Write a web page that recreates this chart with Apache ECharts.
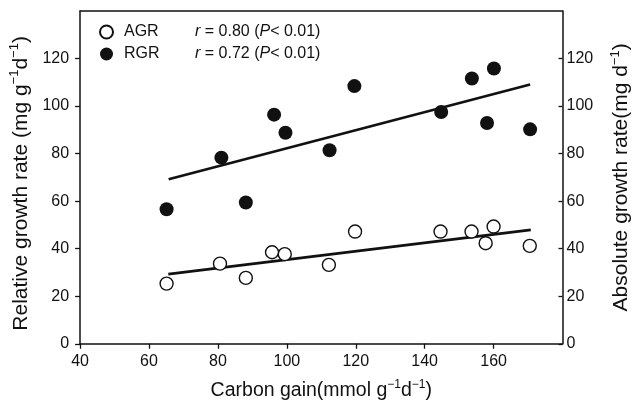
<!DOCTYPE html>
<html>
<head>
<meta charset="utf-8">
<script src="https://cdn.jsdelivr.net/npm/echarts@6/dist/echarts.min.js"></script>
<style>
html,body{margin:0;padding:0;background:#fff;}
#c{width:640px;height:406px;}
</style>
</head>
<body>
<div id="c"></div>
<script>
// Carbon gain (mmol g-1 d-1) and growth rates
const rgrX = [65.1, 81.0, 88.1, 96.3, 99.6, 112.4, 119.6, 144.8, 153.7, 158.1, 160.1, 170.6];
const rgrY = [56.6, 78.3, 59.4, 96.4, 88.8, 81.4, 108.4, 97.5, 111.6, 92.9, 115.8, 90.2];
const agrX = [65.1, 80.6, 88.1, 95.7, 99.4, 112.2, 119.8, 144.6, 153.6, 157.7, 160.0, 170.5];
const agrY = [25.3, 33.7, 27.7, 38.5, 37.7, 33.2, 47.2, 47.2, 47.2, 42.3, 49.3, 41.2];
const rgrFitX = [65.7, 170.6];
const rgrFitY = [69.2, 109.1];
const agrFitX = [65.6, 170.8];
const agrFitY = [29.3, 47.9];
const legendNames = ['AGR', 'RGR'];
const legendR = ['0.80', '0.72'];
const xTitle = ['Carbon gain(mmol g', '\u22121', 'd', '\u22121', ')'];
const yLeftTitle = ['Relative growth rate (mg g', '\u22121', 'd', '\u22121', ')'];
const yRightTitle = ['Absolute growth rate(mg d', '\u22121', ')'];

const zip = (a, b) => a.map((v, i) => [v, b[i]]);
const FONT = '"Liberation Sans", Arial, Helvetica, sans-serif';
const INK = '#111';

function supTitle(parts) {
  return parts.map((p, i) => (i % 2 === 1 ? '{s|' + p + '}' : '{n|' + p + '}')).join('');
}
function titleRich(size) {
  return {
    n: { fontSize: size, fontFamily: FONT, color: INK, lineHeight: size + 5 },
    s: { fontSize: Math.round(size * 0.63), fontFamily: FONT, color: INK, verticalAlign: 'top', lineHeight: size + 5, padding: [0, 0, 8, 0] }
  };
}

const chart = echarts.init(document.getElementById('c'), null, { renderer: 'canvas' });
const axisLine = { show: true, onZero: false, lineStyle: { color: INK, width: 1.5 } };
const labelStyle = { color: INK, fontSize: 16, fontFamily: FONT };

chart.setOption({
  backgroundColor: '#fff',
  animation: false,
  textStyle: { fontFamily: FONT },
  grid: { left: 77.5, right: 73.3, top: 11, bottom: 61.3, containLabel: false },
  legend: {
    data: legendNames,
    orient: 'vertical',
    left: 99,
    top: 23,
    padding: 0,
    itemWidth: 13,
    itemHeight: 13,
    itemGap: 4,
    icon: 'circle',
    selectedMode: false,
    formatter: function (name) {
      const r = legendR[legendNames.indexOf(name)];
      return '{a|' + name + '}{i|r}{t| = ' + r + ' (}{i|P}{t|< 0.01)}';
    },
    textStyle: {
      color: INK, fontSize: 16, fontFamily: FONT, lineHeight: 18,
      rich: {
        a: { fontSize: 16, fontFamily: FONT, color: INK, width: 71, padding: [0, 0, 0, 6] },
        i: { fontSize: 16, fontFamily: FONT, color: INK, fontStyle: 'italic' },
        t: { fontSize: 16, fontFamily: FONT, color: INK }
      }
    }
  },
  xAxis: [
    {
      type: 'value', min: 40, max: 180, interval: 20, position: 'bottom',
      axisLine: axisLine,
      axisTick: { show: true, inside: false, length: 5, lineStyle: { color: INK, width: 1.3 } },
      axisLabel: Object.assign({ margin: 10, showMaxLabel: false }, labelStyle),
      splitLine: { show: false },
      name: supTitle(xTitle),
      nameLocation: 'middle',
      nameGap: 35,
      nameTextStyle: { rich: titleRich(19.5) }
    },
    {
      type: 'value', min: 40, max: 180, interval: 20, position: 'top',
      axisLine: axisLine, axisTick: { show: false }, axisLabel: { show: false }, splitLine: { show: false }
    }
  ],
  yAxis: [
    {
      type: 'value', min: 0, max: 140, interval: 20, position: 'left',
      axisLine: axisLine,
      axisTick: { show: true, inside: false, length: 5, lineStyle: { color: INK, width: 1.3 } },
      axisLabel: Object.assign({ margin: 11, showMaxLabel: false }, labelStyle),
      splitLine: { show: false },
      name: supTitle(yLeftTitle),
      nameLocation: 'middle',
      nameRotate: 90,
      nameGap: 46,
      nameTextStyle: { rich: titleRich(21), padding: [0, 12, 0, 0] }
    },
    {
      type: 'value', min: 0, max: 140, interval: 20, position: 'right',
      axisLine: axisLine,
      axisTick: { show: true, inside: true, length: 4, lineStyle: { color: INK, width: 1.3 } },
      axisLabel: Object.assign({ margin: 4, showMaxLabel: false }, labelStyle),
      splitLine: { show: false },
      name: supTitle(yRightTitle),
      nameLocation: 'middle',
      nameRotate: 90,
      nameGap: 46,
      nameTextStyle: { rich: titleRich(21) }
    }
  ],
  series: [
    {
      name: 'RGR fit', type: 'line', xAxisIndex: 0, yAxisIndex: 0,
      data: zip(rgrFitX, rgrFitY), showSymbol: false, symbol: 'none',
      lineStyle: { color: INK, width: 2.6 }, z: 2, silent: true
    },
    {
      name: 'AGR fit', type: 'line', xAxisIndex: 0, yAxisIndex: 1,
      data: zip(agrFitX, agrFitY), showSymbol: false, symbol: 'none',
      lineStyle: { color: INK, width: 2.6 }, z: 2, silent: true
    },
    {
      name: 'AGR', type: 'scatter', xAxisIndex: 0, yAxisIndex: 1,
      data: zip(agrX, agrY), symbol: 'circle', symbolSize: 13,
      itemStyle: { color: '#fff', borderColor: INK, borderWidth: 1.4, opacity: 1 }, z: 3
    },
    {
      name: 'RGR', type: 'scatter', xAxisIndex: 0, yAxisIndex: 0,
      data: zip(rgrX, rgrY), symbol: 'circle', symbolSize: 14,
      itemStyle: { color: INK, borderColor: INK, borderWidth: 0, opacity: 1 }, z: 3
    }
  ]
});
</script>
</body>
</html>
